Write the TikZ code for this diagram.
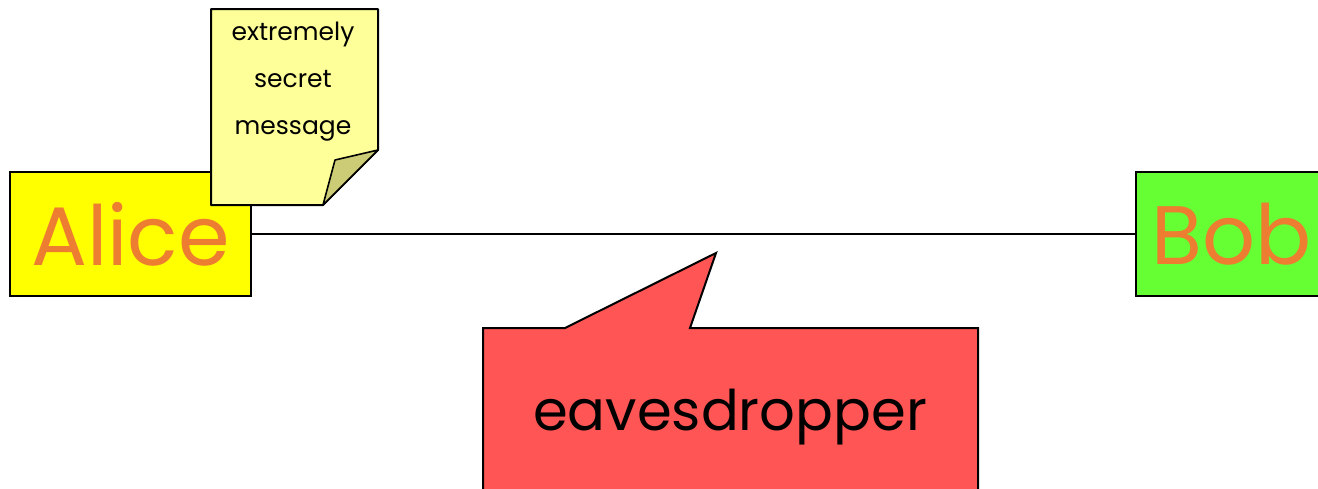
\documentclass[tikz,border=0pt]{standalone}
\usepackage{fontspec}
\setmainfont{Poppins}
\usepackage{tikz}
\usetikzlibrary{positioning,calc}

\definecolor{aliceyellow}{HTML}{FFFF00}
\definecolor{bobgreen}{HTML}{66FF33}
\definecolor{nameorange}{HTML}{ED7D31}
\definecolor{notepaper}{HTML}{FFFF99}
\definecolor{notefold}{HTML}{CCCC77}
\definecolor{everred}{HTML}{FF5555}

\begin{document}
\begin{tikzpicture}[x=0.5pt, y=-0.5pt,
    party/.style={draw, line width=1pt, rectangle, inner sep=0pt, minimum height=62pt,
        text=nameorange, font=\fontsize{41.5}{45}\selectfont},
    notetext/.style={align=center, font=\fontsize{12.5}{23.5}\selectfont},
    evetext/.style={font=\fontsize{28}{32}\selectfont}]

    \clip (0,0) rectangle (1318,488);

    % Parties
    \node[party, fill=aliceyellow, minimum width=120.5pt] (alice) at (130.5,234) {Alice};
    \node[party, fill=bobgreen, minimum width=96pt] (bob) at (1232,234) {Bob};

    % Channel
    \draw[line width=0.8pt] (alice) -- (bob);

    % Secret note
    \filldraw[fill=notepaper, line width=1pt, line join=round]
        (211,9) -- (378,9) -- (378,150) -- (323,205) -- (211,205) -- cycle;
    \filldraw[fill=notefold, line width=0.8pt, line join=round]
        (378,150) -- (335,160) -- (323,205) -- cycle;
    \node[notetext] (note) at (293,82) {extremely\\secret\\message};

    % Eavesdropper
    \filldraw[fill=everred, line width=1pt]
        (483,500) -- (483,328) -- (565,328) -- (716,253) -- (690,328) -- (978,328) -- (978,500);
    \node[evetext] (eve) at (730,417) {eavesdropper};

\end{tikzpicture}
\end{document}
